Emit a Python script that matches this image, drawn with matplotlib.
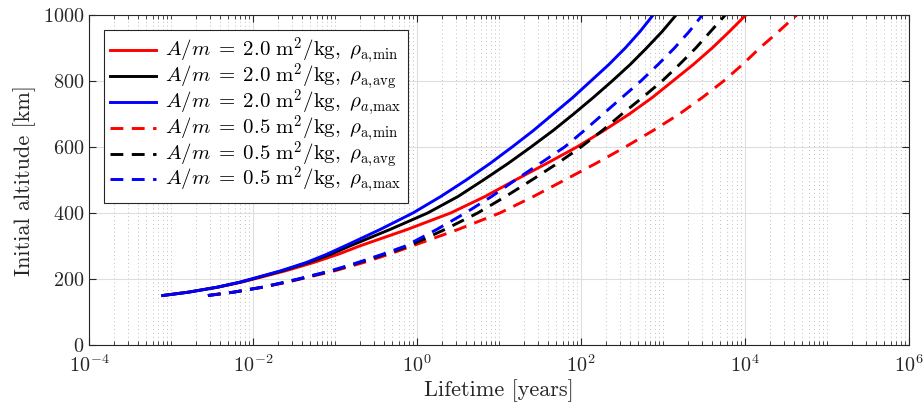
import numpy as np
import matplotlib
matplotlib.use('Agg')
import matplotlib.pyplot as plt
from matplotlib.ticker import LogLocator, FixedLocator, NullFormatter, LogFormatterMathtext

plt.rcParams['mathtext.fontset'] = 'cm'
plt.rcParams['font.family'] = ['cmr10', 'DejaVu Serif']
plt.rcParams['axes.unicode_minus'] = False
plt.rcParams['axes.formatter.use_mathtext'] = True

# Initial altitude [km]
altitude = [150, 160, 175, 190, 200, 225, 250, 275, 300, 350, 400, 450, 500,
            550, 600, 650, 700, 750, 800, 850, 900, 950, 1000]

# log10 of lifetime [years]
am20_min = [-3.10, -2.79, -2.43, -2.15, -1.99, -1.60, -1.26, -0.96, -0.70, -0.12, 0.41, 0.83, 1.20,
            1.58, 1.95, 2.28, 2.59, 2.87, 3.12, 3.37, 3.60, 3.81, 4.01]
am20_avg = [-3.10, -2.79, -2.44, -2.16, -2.01, -1.64, -1.32, -1.05, -0.82, -0.33, 0.13, 0.50, 0.81,
            1.11, 1.39, 1.66, 1.91, 2.15, 2.38, 2.60, 2.80, 2.99, 3.16]
am20_max = [-3.10, -2.79, -2.44, -2.17, -2.02, -1.66, -1.35, -1.10, -0.88, -0.45, -0.05, 0.29, 0.60,
            0.89, 1.16, 1.42, 1.66, 1.90, 2.12, 2.34, 2.54, 2.72, 2.88]
am05_min = [-2.55, -2.24, -1.88, -1.59, -1.42, -1.00, -0.65, -0.34, -0.06, 0.50, 1.01, 1.42, 1.80,
            2.18, 2.54, 2.88, 3.20, 3.48, 3.74, 3.97, 4.18, 4.41, 4.63]
am05_avg = [-2.55, -2.24, -1.89, -1.61, -1.44, -1.03, -0.70, -0.39, -0.10, 0.34, 0.74, 1.08, 1.40,
            1.71, 2.00, 2.26, 2.50, 2.75, 2.99, 3.20, 3.40, 3.58, 3.76]
am05_max = [-2.55, -2.24, -1.89, -1.62, -1.45, -1.05, -0.72, -0.42, -0.14, 0.24, 0.59, 0.91, 1.20,
            1.50, 1.80, 2.04, 2.27, 2.50, 2.73, 2.94, 3.14, 3.32, 3.48]

labels = [
    r'$A/m\;=\;2.0\ \mathrm{m}^2/\mathrm{kg},\ \rho_{\mathrm{a{,}min}}$',
    r'$A/m\;=\;2.0\ \mathrm{m}^2/\mathrm{kg},\ \rho_{\mathrm{a{,}avg}}$',
    r'$A/m\;=\;2.0\ \mathrm{m}^2/\mathrm{kg},\ \rho_{a{,}\max}$',
    r'$A/m\;=\;0.5\ \mathrm{m}^2/\mathrm{kg},\ \rho_{\mathrm{a{,}min}}$',
    r'$A/m\;=\;0.5\ \mathrm{m}^2/\mathrm{kg},\ \rho_{\mathrm{a{,}avg}}$',
    r'$A/m\;=\;0.5\ \mathrm{m}^2/\mathrm{kg},\ \rho_{\mathrm{a{,}max}}$',
]
series = [am20_min, am20_avg, am20_max, am05_min, am05_avg, am05_max]
colors = ['#ff0000', '#000000', '#0000ff', '#ff0000', '#000000', '#0000ff']
styles = ['-', '-', '-', '--', '--', '--']

fig = plt.figure(figsize=(9.24, 4.12), dpi=100)
ax = fig.add_axes([89 / 924, 1 - 345 / 412, 820 / 924, 330 / 412])

alt = np.array(altitude)
for s, c, ls, lab in zip(series, colors, styles, labels):
    x = 10 ** np.array(s)
    line, = ax.plot(x, alt, color=c, ls=ls, lw=2.1, label=lab,
                    solid_joinstyle='round', dash_joinstyle='round')
    if ls == '--':
        line.set_dashes((4.4, 2.9))

ax.set_xscale('log')
ax.set_xlim(1e-4, 1e6)
ax.set_ylim(0, 1000)
ax.xaxis.set_major_locator(FixedLocator([1e-4, 1e-2, 1e0, 1e2, 1e4, 1e6]))
ax.xaxis.set_major_formatter(LogFormatterMathtext())
ax.xaxis.set_minor_locator(LogLocator(base=10, subs=np.arange(1, 10), numticks=100))
ax.xaxis.set_minor_formatter(NullFormatter())
ax.set_yticks([0, 200, 400, 600, 800, 1000])

ax.grid(which='major', color='#dedede', lw=0.8, ls='-')
ax.grid(which='minor', axis='x', color='#bdbdbd', lw=0.7, ls=(0, (1, 3)))
ax.set_axisbelow(True)

for sp in ax.spines.values():
    sp.set_color('#262626')
    sp.set_linewidth(0.8)
ax.tick_params(which='both', direction='in', top=True, right=True, colors='#262626',
               labelsize=14.5, labelcolor='#262626')
ax.tick_params(which='major', length=5, width=0.8)
ax.tick_params(which='minor', length=2.8, width=0.6)
ax.tick_params(axis='x', pad=7)

ax.set_xlabel('Lifetime [years]', fontsize=16, color='#262626', labelpad=2)
ax.set_ylabel('Initial altitude [km]', fontsize=16, color='#262626', labelpad=5)

leg = ax.legend(loc='upper left', bbox_to_anchor=(0.018, 0.955), borderaxespad=0,
                fontsize=15, frameon=True, fancybox=False, framealpha=1,
                edgecolor='#262626', handlelength=2.2, handletextpad=0.45,
                labelspacing=-0.25, borderpad=0.3)
leg.get_frame().set_linewidth(0.8)

fig.savefig('out.png', dpi=100)
